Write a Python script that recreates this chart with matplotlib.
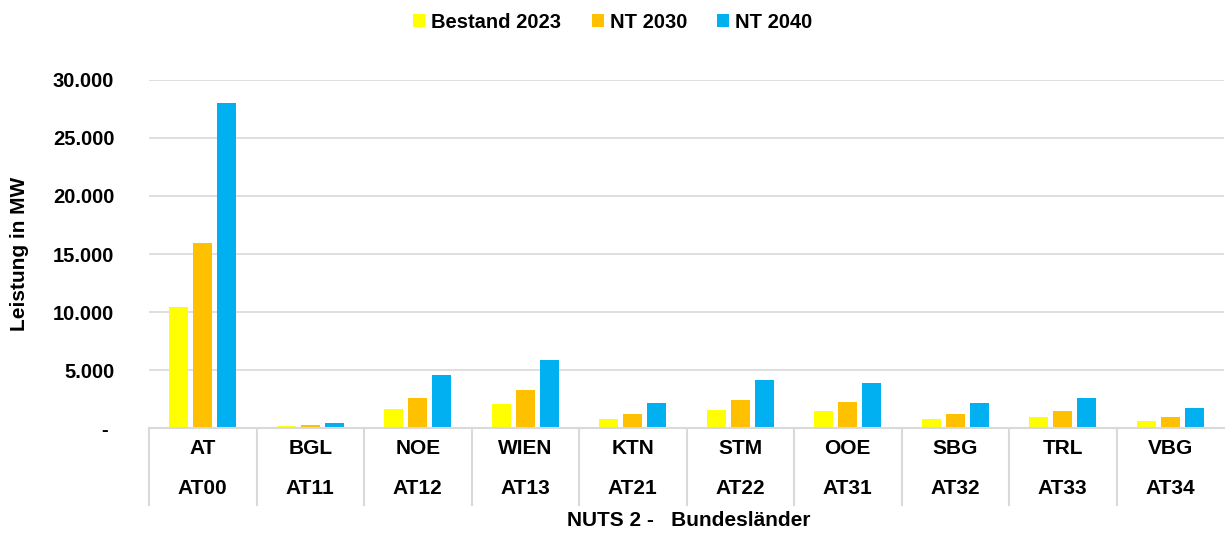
import matplotlib
matplotlib.use("Agg")
import matplotlib.pyplot as plt
import matplotlib.transforms as mtransforms
import numpy as np

plt.rcParams['font.family'] = ['Liberation Sans', 'DejaVu Sans']
plt.rcParams['font.weight'] = 'bold'

laender = ["AT", "BGL", "NOE", "WIEN", "KTN", "STM", "OOE", "SBG", "TRL", "VBG"]
nuts_codes = ["AT00", "AT11", "AT12", "AT13", "AT21", "AT22", "AT31", "AT32", "AT33", "AT34"]
series_names = ["Bestand 2023", "NT 2030", "NT 2040"]
bestand_2023 = [10430, 150, 1640, 2100, 780, 1550, 1470, 750, 920, 600]
nt_2030 = [15920, 230, 2580, 3250, 1200, 2440, 2270, 1240, 1440, 950]
nt_2040 = [28050, 400, 4570, 5860, 2160, 4170, 3880, 2160, 2590, 1750]
y_ticks = [0, 5000, 10000, 15000, 20000, 25000, 30000]
y_tick_labels = ["- ", "5.000", "10.000", "15.000", "20.000", "25.000", "30.000"]
colors = ["#FFFF00", "#FFC000", "#00B0F0"]

W, H = 1227, 534
fig = plt.figure(figsize=(W / 100, H / 100), dpi=100)
ax_left, ax_right, ax_top, ax_bottom = 149, 1224, 80, 428
ax = fig.add_axes([ax_left / W, (H - ax_bottom) / H,
                   (ax_right - ax_left) / W, (ax_bottom - ax_top) / H])

x = np.arange(len(laender))
bw = 0.177
step = 0.223
handles = []
for i, (vals, c, name) in enumerate(zip([bestand_2023, nt_2030, nt_2040], colors, series_names)):
    b = ax.bar(x + (i - 1) * step, vals, width=bw, color=c, label=name, zorder=3)
    handles.append(b)

ax.set_xlim(-0.5, len(laender) - 0.5)
ax.set_ylim(0, 30000)
ax.set_yticks(y_ticks)
ax.set_yticklabels(y_tick_labels, fontsize=14.5, fontweight='bold')
ax.tick_params(axis='y', length=0, pad=25)
ax.set_xticks([])
ax.grid(axis='y', color='#D9D9D9', linewidth=1.2, zorder=0)
for s in ['top', 'right', 'left']:
    ax.spines[s].set_visible(False)
ax.spines['bottom'].set_color('#D9D9D9')
ax.spines['bottom'].set_linewidth(1.5)
ax.spines['bottom'].set_zorder(4)

ax.set_ylabel("Leistung in MW", fontsize=15, fontweight='bold')
ax.yaxis.set_label_coords(-0.12, 0.5)
ax.yaxis.label.set_verticalalignment('center')

trans = mtransforms.blended_transform_factory(ax.transData, ax.transAxes)
sep_bottom = -(505 - ax_bottom) / (ax_bottom - ax_top)
for k in range(len(laender)):
    ax.plot([k - 0.5, k - 0.5], [0, sep_bottom], transform=trans, color='#D9D9D9',
            linewidth=1.5, clip_on=False)

row1 = -(449 - ax_bottom) / (ax_bottom - ax_top)
row2 = -(488 - ax_bottom) / (ax_bottom - ax_top)
for k, (l, code) in enumerate(zip(laender, nuts_codes)):
    ax.text(k, row1, l, transform=trans, ha='center', va='center', fontsize=15, fontweight='bold')
    ax.text(k, row2, code, transform=trans, ha='center', va='center', fontsize=15, fontweight='bold')

fig.text(689 / W, 1 - 520 / H, "NUTS 2 -   Bundesländer", ha='center', va='center',
         fontsize=15, fontweight='bold')

leg = fig.legend(handles=handles, labels=series_names, loc='center', bbox_to_anchor=(613 / W, 1 - 22 / H),
                 ncol=3, frameon=False, handlelength=0.6, handleheight=0.6,
                 handletextpad=0.3, columnspacing=1.5, prop={'weight': 'bold', 'size': 14.5})

fig.savefig("out.png", dpi=100)
